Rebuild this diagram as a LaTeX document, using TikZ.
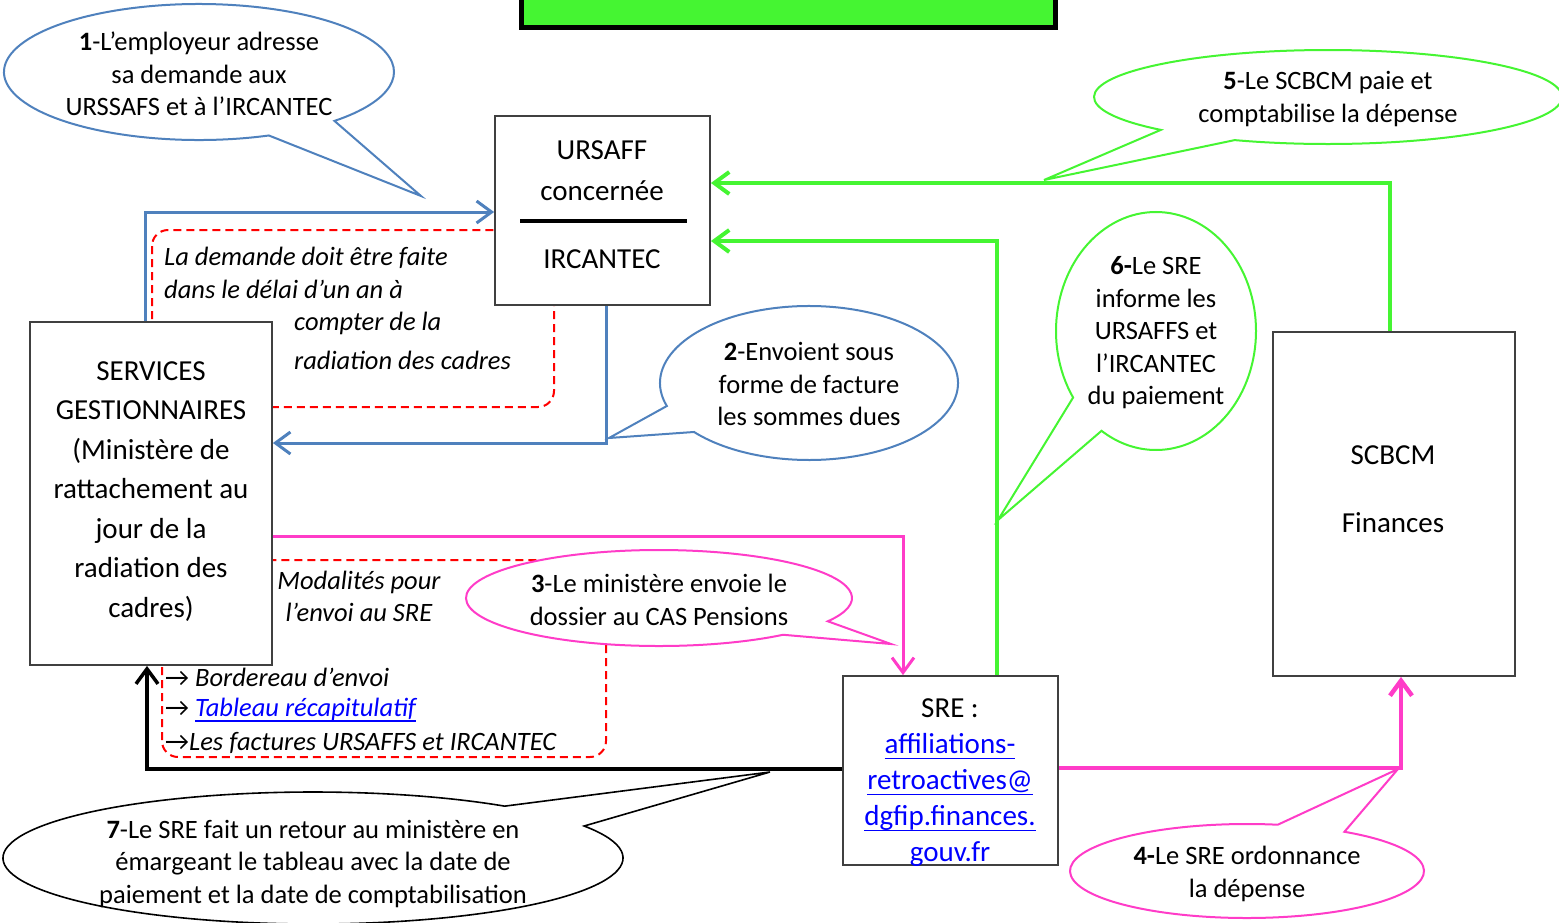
\documentclass[tikz,border=0pt]{standalone}
\usepackage{fontspec}
\setmainfont{Carlito}
\usetikzlibrary{arrows.meta}
\definecolor{obl}{HTML}{4F81BD}
\definecolor{grn}{HTML}{45F532}
\definecolor{pnk}{HTML}{FF3CC8}
\definecolor{lnk}{HTML}{0000FF}
\definecolor{boxgray}{HTML}{404040}
\newcommand\ulk[1]{{\color{lnk}\setbox0\hbox{#1}\rlap{\raisebox{-5.5pt}{\rule{\wd0}{1.8pt}}}\box0}}
\tikzset{
 box/.style={draw=boxgray, line width=1.8pt, fill=white, inner sep=0pt},
 conn/.style={line width=3pt, -{Straight Barb[length=15pt,width=22pt]}},
 bub/.style={fill=white, line width=2pt},
 bt/.style={align=center, inner sep=0pt, font=\fontsize{26.5}{32.5}\selectfont},
 itx/.style={inner sep=0pt, anchor=west, font=\fontsize{26.5}{32.5}\selectfont\itshape},
 itc/.style={inner sep=0pt, align=center, font=\fontsize{26.5}{32}\selectfont\itshape},
 bx/.style={align=center, inner sep=0pt, font=\fontsize{29}{40}\selectfont},
 reddash/.style={draw=red, line width=2pt, dash pattern=on 8pt off 5pt, rounded corners=16pt},
}
\begin{document}
\begin{tikzpicture}[x=1pt,y=-1pt]
\useasboundingbox (0,0) rectangle (1559,922);
\clip (0,0) rectangle (1559,922);

% top green banner
\fill[grn] (519,0) rectangle (1057,28);
\draw[line width=5pt] (521,0) -- (521,27) -- (1055,27) -- (1055,0);

% red dashed frames
\draw[reddash] (152,230) rectangle (554,407);
\draw[reddash] (162,560) rectangle (606,757);

% boxes
\node[box, minimum width=215pt, minimum height=189pt] (urs) at (602.5,210.5) {};
\node[box, minimum width=242pt, minimum height=343pt] (serv) at (151,493.5) {};
\node[box, minimum width=215pt, minimum height=189pt] (sre) at (950.5,770.5) {};
\node[box, minimum width=242pt, minimum height=344pt] (scb) at (1394,504) {};

\draw[line width=4pt] (520,221) -- (687,221);

% box texts
\node[bx, font=\fontsize{29}{41}\selectfont] (ursa) at (602,171) {URSAFF\\concernée};
\node[bx] (ursb) at (602,259) {IRCANTEC};
\node[bx, font=\fontsize{29}{39.5}\selectfont] (servt) at (151,491.5) {SERVICES\\GESTIONNAIRES\\(Ministère de\\rattachement au\\jour de la\\radiation des\\cadres)};
\node[bx, font=\fontsize{29}{36}\selectfont] (sret) at (950,783) {SRE :\\\ulk{affiliations-}\\\ulk{retroactives@}\\\ulk{dgfip.finances.}\\{\color{lnk}gouv.fr}};
\node[bx, font=\fontsize{29}{34}\selectfont] (scbt) at (1393,489) {SCBCM\\[34pt]Finances};

% connector bends
\coordinate (k1) at (145,212);
\coordinate (k2) at (606,443);
\coordinate (k3) at (903,536);
\coordinate (k4) at (1401,768);
\coordinate (k5) at (1390,183);
\coordinate (k6) at (997,241);
\coordinate (k7) at (147,769);

\draw[conn, obl] (serv.north -| k1) -- (k1) -- (urs.west |- k1);
\draw[conn, obl] (urs.south -| k2) -- (k2) -- (serv.east |- k2);
\draw[conn, pnk] (serv.east |- k3) -- (k3) -- (sre.north -| k3);
\draw[conn, pnk, line width=4.5pt] (sre.east |- k4) -- (k4) -- (scb.south -| k4);
\draw[conn, grn, line width=4pt] (scb.north -| k5) -- (k5) -- (urs.east |- k5);
\draw[conn, grn, line width=4pt] (sre.north -| k6) -- (k6) -- (urs.east |- k6);
\draw[conn, black, line width=3.5pt] (sre.west |- k7) -- (k7) -- (serv.south -| k7);

% callouts
\filldraw[bub, draw=obl] (199,72) ++(69:195 and 68) arc[start angle=69,end angle=406,x radius=195,y radius=68] -- (421,196) -- cycle;
\filldraw[bub, draw=obl] (809,383) ++(162.6:149 and 77) arc[start angle=162.6,end angle=500.5,x radius=149,y radius=77] -- (609,438) -- cycle;
\filldraw[bub, draw=pnk] (659,598) ++(50:193 and 48) arc[start angle=50,end angle=389,x radius=193,y radius=48] -- (891,644) -- cycle;
\filldraw[bub, draw=pnk] (1247,871) ++(303.4:177 and 47) arc[start angle=303.4,end angle=640,x radius=177,y radius=47] -- (1398,769) -- cycle;
\filldraw[bub, draw=grn] (1328,97) ++(135.6:234 and 47) arc[start angle=135.6,end angle=473.5,x radius=234,y radius=47] -- (1044,180) -- cycle;
\filldraw[bub, draw=grn] (1156,331) ++(146:100 and 119) arc[start angle=146,end angle=483,x radius=100,y radius=119] -- (998,520) -- cycle;
\filldraw[bub, draw=black, line width=1.6pt] (313,858) ++(331:310 and 66) arc[start angle=331,end angle=668.2,x radius=310,y radius=66] -- (770,772) -- cycle;

% callout texts
\node[bt] (b1) at (199,74) {\textbf{1}-L’employeur adresse\\sa demande aux\\URSSAFS et à l’IRCANTEC};
\node[bt] (b2) at (809,384) {\textbf{2}-Envoient sous\\forme de facture\\les sommes dues};
\node[bt] (b3) at (659,600) {\textbf{3}-Le ministère envoie le\\dossier au CAS Pensions};
\node[bt] (b4) at (1247,874) {\textbf{4-}Le SRE ordonnance\\la dépense};
\node[bt] (b5) at (1328,99) {\textbf{5}-Le SCBCM paie et\\comptabilise la dépense};
\node[bt] (b6) at (1156,333) {\textbf{6-}Le SRE\\informe les\\URSAFFS et\\l’IRCANTEC\\du paiement};
\node[bt] (b7) at (313,864) {\textbf{7}-Le SRE fait un retour au ministère en\\émargeant le tableau avec la date de\\paiement et la date de comptabilisation};

% italic notes
\node[itx] (n1) at (164,258) {La demande doit être faite};
\node[itx] (n2) at (164,289) {dans le délai d’un an à};
\node[itx] (n3) at (294,323) {compter de la};
\node[itx] (n4) at (294,360) {radiation des cadres};
\node[itc] (n5) at (359,596) {Modalités pour\\l’envoi au SRE};
\node[itx] (n6) at (165,677) {{\upshape →} Bordereau d’envoi};
\node[itx] (n7) at (165,710) {{\upshape →} \ulk{Tableau récapitulatif}};
\node[itx] (n8) at (165,743) {{\upshape →}Les factures URSAFFS et IRCANTEC};
\end{tikzpicture}
\end{document}
